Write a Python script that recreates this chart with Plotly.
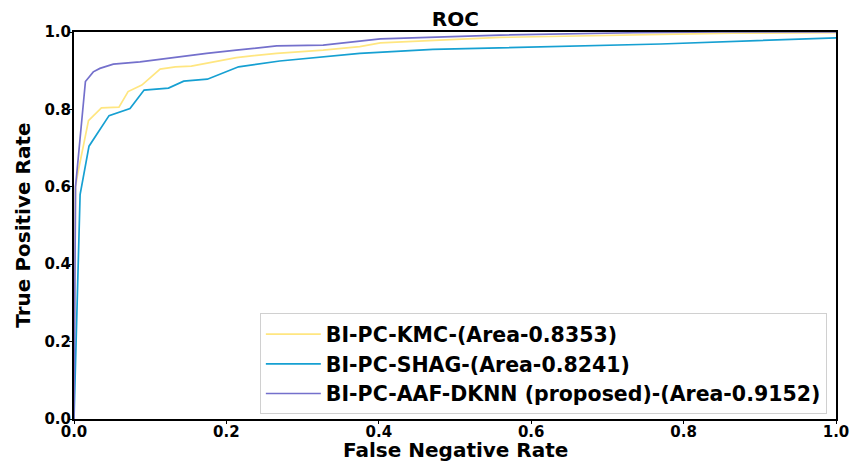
import plotly.graph_objects as go

fpr_kmc = [0, 0.002, 0.005, 0.019, 0.036, 0.059, 0.071, 0.089, 0.113, 0.133, 0.154, 0.183, 0.213, 0.266, 0.327, 0.375, 0.402, 0.559, 0.734, 0.865, 1.0]
tpr_kmc = [0, 0.60, 0.635, 0.771, 0.804, 0.806, 0.846, 0.863, 0.904, 0.910, 0.912, 0.923, 0.934, 0.945, 0.953, 0.962, 0.972, 0.986, 0.993, 0.997, 0.998]

fpr_shag = [0, 0.008, 0.0197, 0.046, 0.0735, 0.092, 0.124, 0.144, 0.175, 0.216, 0.270, 0.332, 0.375, 0.471, 0.60, 0.77, 1.0]
tpr_shag = [0, 0.58, 0.705, 0.784, 0.802, 0.850, 0.855, 0.873, 0.878, 0.910, 0.925, 0.936, 0.945, 0.955, 0.961, 0.969, 0.985]

fpr_dknn = [0, 0.002, 0.015, 0.0253, 0.034, 0.0516, 0.0866, 0.113, 0.174, 0.213, 0.266, 0.327, 0.402, 0.559, 0.734, 0.85, 1.0]
tpr_dknn = [0, 0.60, 0.872, 0.897, 0.906, 0.917, 0.923, 0.930, 0.945, 0.953, 0.964, 0.966, 0.982, 0.992, 0.998, 1.0, 1.0]

names = ["BI-PC-KMC-(Area-0.8353)", "BI-PC-SHAG-(Area-0.8241)", "BI-PC-AAF-DKNN (proposed)-(Area-0.9152)"]
colors = ["#FFE680", "#16A0D2", "#7470CC"]
x_title = "False Negative Rate"
y_title = "True Positive Rate"

FONT = "DejaVu Sans"
fig = go.Figure()
# invisible helper trace so the label-only overlay axes are drawn
fig.add_trace(go.Scatter(x=fpr_kmc, y=tpr_kmc, xaxis="x2", yaxis="y2", mode="lines",
                         line=dict(width=0, color="rgba(0,0,0,0)"), opacity=0,
                         showlegend=False, hoverinfo="skip"))
for x, y, n, c in zip([fpr_kmc, fpr_shag, fpr_dknn], [tpr_kmc, tpr_shag, tpr_dknn], names, colors):
    fig.add_trace(go.Scatter(x=x, y=y, mode="lines", name=n, line=dict(color=c, width=1.7)))

tickfont = dict(family=FONT, size=15, color="black", weight="bold")
axis_main = dict(
    showline=True, linecolor="black", linewidth=1.5, mirror=True,
    ticks="outside", ticklen=3.5, tickwidth=1.2, tickcolor="black",
    showgrid=False, zeroline=False, automargin=False, showticklabels=False,
    range=[0, 1], dtick=0.2,
)
axis_labels = dict(
    showline=False, ticks="", showgrid=False, zeroline=False, automargin=False,
    showticklabels=True, tickfont=tickfont, ticklabelstandoff=2,
    range=[0, 1], dtick=0.2, tickformat=".1f",
)

fig.update_layout(
    width=850, height=461,
    margin=dict(l=74, r=14, t=32, b=42),
    paper_bgcolor="white", plot_bgcolor="white",
    title=dict(text="<b>ROC</b>", x=0.5357, xanchor="center", y=0.958, yanchor="middle",
               font=dict(family=FONT, size=20, color="black")),
    xaxis=axis_main,
    yaxis=axis_main,
    xaxis2=dict(**axis_labels, overlaying="x", anchor="y2", side="bottom"),
    yaxis2=dict(**axis_labels, overlaying="y", anchor="x2", side="left"),
    legend=dict(x=0.988, xanchor="right", y=0.012, yanchor="bottom",
                bgcolor="rgba(255,255,255,0.8)", bordercolor="#d0d0d0", borderwidth=1,
                font=dict(family=FONT, size=20.5, color="black", weight="bold"),
                itemwidth=55),
    showlegend=True,
    annotations=[
        dict(text="<b>" + x_title + "</b>", xref="paper", yref="paper", x=0.5, y=-0.080,
             xanchor="center", yanchor="middle", showarrow=False,
             font=dict(family=FONT, size=20, color="black")),
        dict(text="<b>" + y_title + "</b>", xref="paper", yref="paper", x=-0.068, y=0.5,
             xanchor="center", yanchor="middle", showarrow=False, textangle=-90,
             font=dict(family=FONT, size=20, color="black")),
    ],
)

fig.write_html("out.html")
